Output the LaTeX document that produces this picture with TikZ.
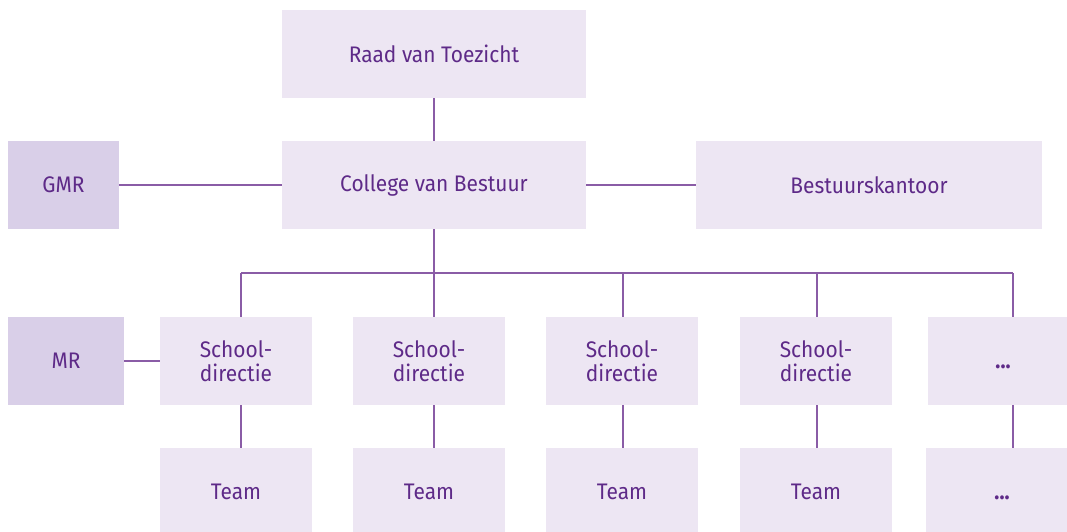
\documentclass[tikz,border=0pt]{standalone}
\usepackage{fontspec}
\setmainfont[FakeStretch=0.93]{Fira Sans}
\definecolor{boxfill}{HTML}{EDE6F3}
\definecolor{darkfill}{HTML}{D9CFE8}
\definecolor{txt}{HTML}{5E2A88}
\definecolor{ln}{HTML}{8A5CA6}
\newcommand{\moredots}{\hspace*{11pt}\smash{\raisebox{-7.5pt}{\textsemibold...}}}
\newcommand{\textsemibold}{\fontseries{sb}\selectfont}
\tikzset{
  box/.style={fill=boxfill, draw=none, inner sep=0pt, text=txt, align=center,
    font=\fontsize{22.5}{24}\selectfont, minimum height=88pt},
  darkbox/.style={box, fill=darkfill},
  conn/.style={draw=ln, line width=2pt}
}
\begin{document}
\begin{tikzpicture}[x=1pt,y=-1pt]
\useasboundingbox (0,0) rectangle (1067,532);
% row 1
\node[box, minimum width=304pt] (raad) at (434,54) {Raad van Toezicht};
% row 2
\node[box, minimum width=304pt] (cvb) at (434,185) {College van Bestuur};
\node[darkbox, minimum width=111pt] (gmr) at (63.5,185) {GMR};
\node[box, minimum width=346pt] (bk) at (869,185) {Bestuurskantoor};
% row 3
\node[darkbox, minimum width=116pt] (mr) at (66,361) {MR};
\node[box, minimum width=152pt] (s1) at (236,361) {School-\\directie};
\node[box, minimum width=152pt] (s2) at (429,361) {School-\\directie};
\node[box, minimum width=152pt] (s3) at (622,361) {School-\\directie};
\node[box, minimum width=152pt] (s4) at (816,361) {School-\\directie};
\node[box, minimum width=139pt] (s5) at (997.5,361) {\moredots};
% row 4
\node[box, minimum width=152pt] (t1) at (236,492) {Team};
\node[box, minimum width=152pt] (t2) at (429,492) {Team};
\node[box, minimum width=152pt] (t3) at (622,492) {Team};
\node[box, minimum width=152pt] (t4) at (816,492) {Team};
\node[box, minimum width=141pt] (t5) at (996.5,492) {\moredots};
% bus coordinates
\coordinate (hub) at (434,273);
\coordinate (b1) at (241,273);
\coordinate (b2) at (434,273);
\coordinate (b3) at (623,273);
\coordinate (b4) at (817,273);
\coordinate (b5) at (1013,273);
% connectors
\draw[conn] (raad.south) -- (cvb.north);
\draw[conn] (gmr.east) -- (cvb.west);
\draw[conn] (cvb.east) -- (bk.west);
\draw[conn] (cvb.south) -- (hub);
\draw[conn] (b1) -- (b5);
\draw[conn] (mr.east) -- (mr.east -| s1.west);
\foreach \i in {1,...,5} {
  \draw[conn] (b\i) -- (b\i |- s\i.north);
  \draw[conn] (b\i |- s\i.south) -- (b\i |- t\i.north);
}
\end{tikzpicture}
\end{document}
